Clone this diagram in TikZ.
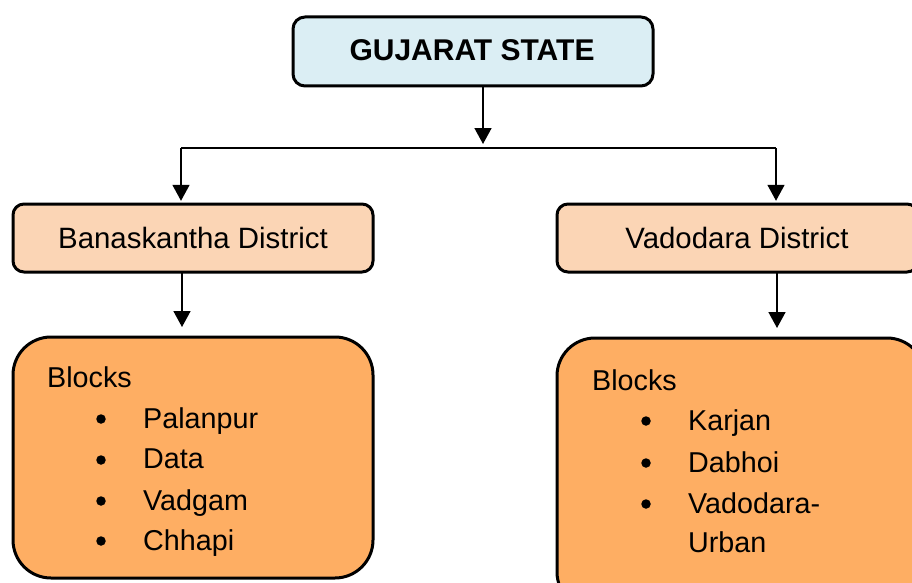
\documentclass[tikz,border=0pt]{standalone}
\usepackage{fontspec}
\setmainfont{Liberation Sans}
\usetikzlibrary{arrows.meta}
\definecolor{topfill}{HTML}{DBEEF4}
\definecolor{distfill}{HTML}{FBD5B5}
\definecolor{blockfill}{HTML}{FEAE63}
\tikzset{
  boxline/.style={draw=black, line width=3pt},
  topbox/.style={boxline, fill=topfill, rounded corners=12pt},
  distbox/.style={boxline, fill=distfill, rounded corners=11pt},
  blockbox/.style={boxline, fill=blockfill, rounded corners=38pt},
  conn/.style={line width=1.6pt},
  arr/.style={conn, -{Triangle[length=16pt,width=17pt]}},
  txt/.style={anchor=base west, inner sep=0pt, font=\fontsize{28.7}{32}\selectfont},
  bul/.style={circle, fill=black, inner sep=0pt, minimum size=9.5pt}
}
\begin{document}
\begin{tikzpicture}[x=1pt,y=-1pt]
\useasboundingbox (0,0) rectangle (912,583);
\begin{scope}
\clip (0,0) rectangle (912,583);
% boxes
\draw[topbox] (293,17) rectangle (653,86);
\draw[distbox] (13,204) rectangle (373,272);
\draw[distbox] (557,204) rectangle (918,272);
\draw[blockbox] (13,337) rectangle (373,578);
\draw[blockbox] (557,338) rectangle (925,610);
\end{scope}
% named nodes over the boxes
\node[inner sep=0pt, minimum width=360pt, minimum height=69pt] (top) at (473,51.5) {};
\node[font=\fontsize{30}{32}\selectfont\bfseries] (toptxt) at (472,50) {GUJARAT STATE};
\node[inner sep=0pt, minimum width=360pt, minimum height=68pt] (ban) at (193,238) {};
\node[font=\fontsize{29.4}{32}\selectfont] (bantxt) at (193,238) {Banaskantha District};
\node[inner sep=0pt, minimum width=361pt, minimum height=68pt] (vad) at (737.5,238) {};
\node[font=\fontsize{29.4}{32}\selectfont] (vadtxt) at (737,238) {Vadodara District};
\coordinate (banblk) at (182,337);
\coordinate (vadblk) at (777,338);
% connectors
\coordinate (j) at (483,148);
\coordinate (jl) at (181,148);
\coordinate (jr) at (776,148);
\draw[arr] (top.south -| j) -- ([yshift=4pt]j);
\draw[conn] (jl) -- (jr);
\draw[arr] (jl) -- ([yshift=3pt]ban.north -| jl);
\draw[arr] (jr) -- ([yshift=3pt]vad.north -| jr);
\draw[arr] (ban.south -| banblk) -- ([yshift=10pt]banblk);
\draw[arr] (vad.south -| vadblk) -- ([yshift=10pt]vadblk);
% left list
\node[txt] (lb) at (47,387) {Blocks};
\node[bul] (lb1) at (101,419) {};
\node[txt] (l1) at (143,428) {Palanpur};
\node[bul] (lb2) at (101,460) {};
\node[txt] (l2) at (143,468) {Data};
\node[bul] (lb3) at (101,501) {};
\node[txt] (l3) at (143,510) {Vadgam};
\node[bul] (lb4) at (101,541) {};
\node[txt] (l4) at (143,550) {Chhapi};
% right list
\node[txt] (rb) at (592,390) {Blocks};
\node[bul] (rb1) at (646,421) {};
\node[txt] (r1) at (688,430) {Karjan};
\node[bul] (rb2) at (646,463) {};
\node[txt] (r2) at (688,472) {Dabhoi};
\node[bul] (rb3) at (646,504) {};
\node[txt] (r3) at (688,513) {Vadodara-};
\node[txt] (r4) at (688,552) {Urban};
\end{tikzpicture}
\end{document}
